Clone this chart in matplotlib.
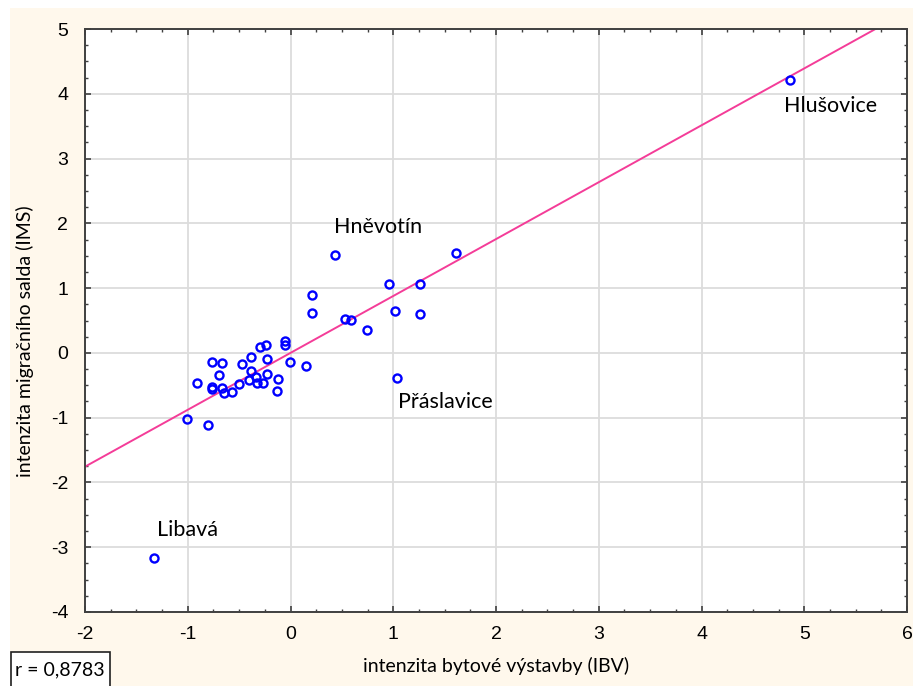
import matplotlib
matplotlib.use("Agg")
import matplotlib.pyplot as plt
from matplotlib.patches import Rectangle
from matplotlib.ticker import MultipleLocator
import numpy as np

plt.rcParams["axes.unicode_minus"] = False

# Data
ibv = [-1.332, -1.008, -0.801, -0.908, -0.768, -0.667, -0.699, -0.768, -0.768,
       -0.667, -0.645, -0.570, -0.499, -0.473, -0.385, -0.385, -0.400, -0.340,
       -0.327, -0.268, -0.301, -0.242, -0.230, -0.227, -0.129, -0.120, -0.057,
       -0.057, -0.001, 0.147, 0.208, 0.208, 0.435, 0.529, 0.590, 0.743, 0.954,
       1.013, 1.038, 1.256, 1.256, 1.606, 4.858]
ims = [-3.168, -1.014, -1.106, -0.468, -0.144, -0.159, -0.335, -0.529, -0.556,
       -0.540, -0.613, -0.606, -0.478, -0.177, -0.066, -0.273, -0.412, -0.366,
       -0.468, -0.468, 0.088, 0.128, -0.093, -0.319, -0.586, -0.406, 0.190,
       0.128, -0.139, -0.204, 0.890, 0.622, 1.517, 0.529, 0.505, 0.355, 1.069,
       0.653, -0.381, 1.069, 0.602, 1.543, 4.208]
r_value = 0.8783
label_names = ["Hlušovice", "Hněvotín", "Přáslavice", "Libavá"]
label_x = [5.258, 0.854, 1.512, -0.998]
label_y = [3.81, 1.944, -0.756, -2.73]
x_ticks = [-2, -1, 0, 1, 2, 3, 4, 5, 6]
y_ticks = [-4, -3, -2, -1, 0, 1, 2, 3, 4, 5]

W, H = 913, 686
fig = plt.figure(figsize=(W / 100, H / 100), dpi=100)
fig.patch.set_facecolor("white")
fig.patches.append(Rectangle((10 / W, 0), 1, (H - 8) / H, transform=fig.transFigure,
                             facecolor="#FFF8EC", edgecolor="none", zorder=-10))

ax = fig.add_axes([85 / W, 1 - 612 / H, 822 / W, 583 / H])
ax.set_facecolor("white")
ax.set_xlim(-2, 6)
ax.set_ylim(-4, 5)
ax.set_xticks(x_ticks)
ax.set_yticks(y_ticks)
ax.xaxis.set_minor_locator(MultipleLocator(0.25))
ax.yaxis.set_minor_locator(MultipleLocator(0.25))
ax.grid(True, which="major", color="#DCDCDC", linewidth=1.3, zorder=0)
ax.set_axisbelow(True)
for s in ax.spines.values():
    s.set_color("#404040")
    s.set_linewidth(1.4)
ax.tick_params(which="both", direction="in", top=True, right=True, color="#404040")
ax.tick_params(which="major", length=4, width=1.2, labelsize=14, pad=10)
ax.tick_params(which="minor", length=2, width=1.0)
for lab in ax.get_xticklabels() + ax.get_yticklabels():
    lab.set_family("Liberation Sans")
ax.tick_params(axis="y", pad=12)

# Regression line (standardized variables: slope = r)
xl = np.array([-2.0, 6.0])
ax.plot(xl, r_value * xl, color="#F43C98", linewidth=1.4, zorder=2)

ax.plot(ibv, ims, linestyle="none", marker="o", markersize=5.8,
        markerfacecolor="none", markeredgecolor="#0000FF", markeredgewidth=1.7, zorder=3)

for name, lx, ly in zip(label_names, label_x, label_y):
    ax.text(lx, ly, name, ha="center", va="center", fontsize=15.5, family="Lato", color="black")

fig.text(496 / W, 1 - 666 / H, "intenzita bytové výstavby (IBV)", ha="center", va="center",
         fontsize=14, family="Lato")
fig.text(25 / W, 1 - 341 / H, "intenzita migračního salda (IMS)", ha="center", va="center",
         rotation=90, fontsize=14, family="Lato")

fig.patches.append(Rectangle((11 / W, -0.02), 99 / W, (686 - 652) / H + 0.02,
                             transform=fig.transFigure, facecolor="white",
                             edgecolor="#202020", linewidth=1.2, zorder=5))
fig.text(60 / W, 1 - 670 / H, "r = 0,8783", ha="center", va="center", fontsize=14,
         family="Lato", zorder=6)

fig.savefig("out.png", dpi=100)
